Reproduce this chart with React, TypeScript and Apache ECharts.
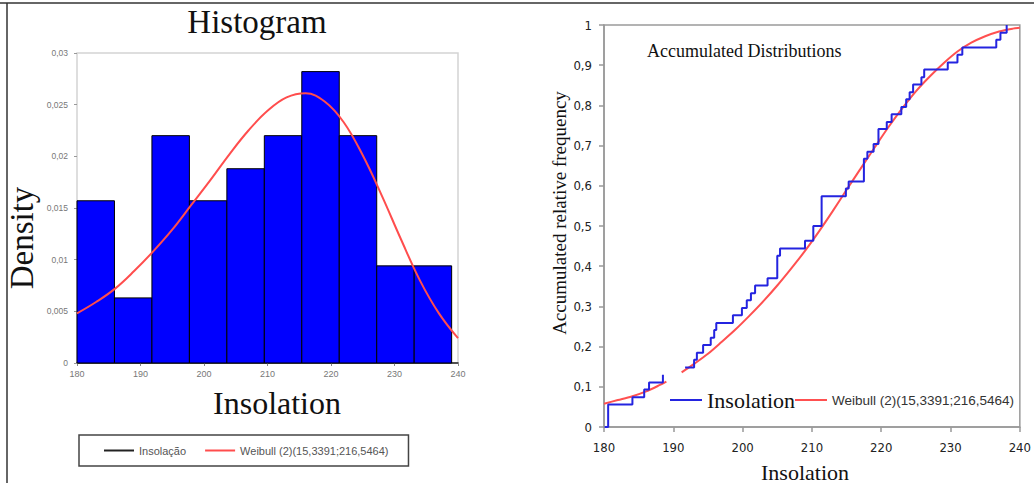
import React, { useEffect, useRef } from "react";
import * as echarts from "echarts";

// ---------- Data ----------
// Histogram bin edges (Insolation) and densities
const binEdges = [180, 185.9, 191.8, 197.7, 203.6, 209.5, 215.4, 221.3, 227.2, 233.1, 239.0];
const binDensity = [0.0157, 0.0063, 0.0220, 0.0157, 0.0188, 0.0220, 0.0282, 0.0220, 0.0094, 0.0094];

// Fitted Weibull density curve (left chart)
const pdfX = [180, 183, 186, 189, 192, 195, 198, 201, 204, 207, 210, 213, 216, 219, 222, 225, 228, 231, 234, 237, 240];
const pdfY = [0.0048, 0.0059, 0.0072, 0.0089, 0.0108, 0.0129, 0.0153, 0.0177, 0.0202, 0.0225, 0.0244, 0.0257, 0.0261, 0.0253, 0.0233, 0.0201, 0.0162, 0.0120, 0.0080, 0.0048, 0.0024];

// Empirical cumulative frequency (right chart), two visible pieces
const ecdfLowX = [180.1, 180.6, 184.1, 185.8, 186.5, 188.5];
const ecdfLowY = [0, 0.056, 0.074, 0.093, 0.111, 0.130];
const ecdfHighX = [191.7, 193.0, 193.4, 194.3, 195.4, 195.9, 196.2, 198.6, 199.9, 200.6, 201.2, 201.8, 203.6, 205.0, 205.4, 209.0, 210.2, 211.4, 214.9, 215.3, 217.5, 218.0, 218.9, 219.6, 220.8, 221.5, 222.9, 223.6, 224.1, 224.6, 225.8, 226.2, 229.6, 231.0, 231.7, 236.6, 237.2, 238.1];
const ecdfHighY = [0.148, 0.167, 0.185, 0.204, 0.222, 0.241, 0.259, 0.278, 0.296, 0.315, 0.333, 0.352, 0.370, 0.426, 0.444, 0.463, 0.500, 0.574, 0.593, 0.611, 0.667, 0.685, 0.704, 0.741, 0.759, 0.778, 0.796, 0.815, 0.833, 0.852, 0.870, 0.889, 0.907, 0.926, 0.944, 0.963, 0.981, 1.0];

// Fitted Weibull cumulative curve (right chart), two visible pieces
const cdfLowX = [180, 182, 184, 186, 188, 189];
const cdfLowY = [0.058, 0.067, 0.076, 0.088, 0.104, 0.113];
const cdfHighX = [191.2, 193, 195, 197, 199, 201, 203, 205, 207, 209, 211, 213, 215, 217, 219, 221, 223, 225, 227, 229, 231, 233, 235, 237, 239, 240];
const cdfHighY = [0.136, 0.157, 0.182, 0.212, 0.243, 0.277, 0.313, 0.352, 0.394, 0.438, 0.486, 0.537, 0.590, 0.642, 0.694, 0.745, 0.792, 0.835, 0.872, 0.905, 0.934, 0.956, 0.972, 0.984, 0.991, 0.993];

const weibullName = "Weibull (2)(15,3391;216,5464)";

const zip = (xs: number[], ys: number[]) => xs.map((x, i) => [x, ys[i]]);
const comma = (v: number) => String(v).replace(".", ",");

export default function App() {
  const ref = useRef<HTMLDivElement>(null);

  useEffect(() => {
    if (!ref.current) return;
    const chart = echarts.init(ref.current, null, { renderer: "svg" });

    const histData = binDensity.map((d, i) => [binEdges[i], binEdges[i + 1], d]);
    const serif = "'Liberation Serif', 'Times New Roman', serif";
    const sans = "'Liberation Sans', Arial, sans-serif";
    const narrow = "'Liberation Sans Narrow', 'DejaVu Sans Condensed', 'Liberation Sans', sans-serif";

    chart.setOption({
      animation: false,
      backgroundColor: "#ffffff",
      grid: [
        { left: 77, top: 53, width: 381, height: 310, show: true, borderColor: "#d4d4d4", borderWidth: 1.5, backgroundColor: "transparent" },
        { left: 604, top: 25, width: 423, height: 402, show: true, borderColor: "#9a9a9a", borderWidth: 1.5, backgroundColor: "transparent" },
      ],
      xAxis: [
        {
          type: "value", gridIndex: 0, min: 180, max: 240, interval: 10,
          splitLine: { show: false },
          axisLine: { show: true, lineStyle: { color: "#222", width: 1.5 } },
          axisTick: { show: true, length: 3, lineStyle: { color: "#888" } },
          axisLabel: { fontSize: 9, color: "#777", fontFamily: sans, margin: 6 },
        },
        {
          type: "value", gridIndex: 1, min: 180, max: 240, interval: 10,
          splitLine: { show: false },
          axisLine: { show: true, onZero: false, lineStyle: { color: "#999", width: 1.5 } },
          axisTick: { show: true, length: 5, lineStyle: { color: "#999", width: 1.5 } },
          axisLabel: { fontSize: 13, color: "#222", fontFamily: narrow, margin: 14 },
        },
      ],
      yAxis: [
        {
          type: "value", gridIndex: 0, min: 0, max: 0.03, interval: 0.005,
          splitLine: { show: false },
          axisLine: { show: false },
          axisTick: { show: true, length: 3, lineStyle: { color: "#999" } },
          axisLabel: { fontSize: 8.5, color: "#777", fontFamily: sans, margin: 9, formatter: (v: number) => comma(+v.toFixed(3)) },
        },
        {
          type: "value", gridIndex: 1, min: 0, max: 1, interval: 0.1,
          splitLine: { show: false },
          axisLine: { show: true, lineStyle: { color: "#999", width: 1.5 } },
          axisTick: { show: true, length: 5, lineStyle: { color: "#999", width: 1.5 } },
          axisLabel: { fontSize: 13, color: "#222", fontFamily: narrow, margin: 12, formatter: (v: number) => comma(+v.toFixed(1)) },
        },
      ],
      legend: [
        {
          left: 79, top: 435, orient: "horizontal",
          padding: [10, 20, 10, 25], itemGap: 19,
          borderColor: "#444", borderWidth: 1.5,
          itemWidth: 30, itemHeight: 2,
          textStyle: { fontSize: 11, color: "#555", fontFamily: sans },
          data: [
            { name: "Insolação", icon: "rect", itemStyle: { color: "#222" } },
            { name: weibullName, icon: "rect", itemStyle: { color: "#ff4d4d" } },
          ],
        },
        {
          left: 670, top: 389, orient: "horizontal",
          padding: 0, itemGap: 0,
          itemWidth: 32, itemHeight: 2,
          data: [
            { name: "Insolation", icon: "rect", itemStyle: { color: "#2424e0" }, textStyle: { fontSize: 22, color: "#111", fontFamily: serif } },
            { name: weibullName, icon: "rect", itemStyle: { color: "#ff5050" }, textStyle: { fontSize: 13.5, color: "#333", fontFamily: sans } },
          ],
        },
      ],
      graphic: [
        { type: "line", shape: { x1: 0, y1: 3, x2: 1034, y2: 3 }, style: { stroke: "#333", lineWidth: 1.5 } },
        { type: "line", shape: { x1: 7, y1: 3, x2: 7, y2: 483 }, style: { stroke: "#333", lineWidth: 1.5 } },
        { type: "text", x: 257, y: 22, style: { text: "Histogram", fontSize: 33, fontFamily: serif, fill: "#111", align: "center", verticalAlign: "middle" } },
        { type: "text", x: 22, y: 238, rotation: Math.PI / 2, style: { text: "Density", fontSize: 33, fontFamily: serif, fill: "#111", align: "center", verticalAlign: "middle" } },
        { type: "text", x: 277, y: 403, style: { text: "Insolation", fontSize: 32, fontFamily: serif, fill: "#111", align: "center", verticalAlign: "middle" } },
        { type: "text", x: 647, y: 51, style: { text: "Accumulated Distributions", fontSize: 18, fontFamily: serif, fill: "#111", align: "left", verticalAlign: "middle" } },
        { type: "text", x: 805, y: 472, style: { text: "Insolation", fontSize: 22, fontFamily: serif, fill: "#111", align: "center", verticalAlign: "middle" } },
        { type: "text", x: 559, y: 213, rotation: Math.PI / 2, style: { text: "Accumulated relative frequency", fontSize: 19, fontFamily: serif, fill: "#111", align: "center", verticalAlign: "middle" } },
      ],
      series: [
        {
          name: "Insolação",
          type: "custom",
          xAxisIndex: 0, yAxisIndex: 0,
          dimensions: ["x0", "x1", "density"],
          encode: { x: [0, 1], y: 2 },
          data: histData,
          itemStyle: { color: "#0000ff" },
          renderItem: (params: any, api: any) => {
            const p0 = api.coord([api.value(0), api.value(2)]);
            const p1 = api.coord([api.value(1), 0]);
            return {
              type: "rect",
              shape: { x: p0[0], y: p0[1], width: p1[0] - p0[0], height: p1[1] - p0[1] },
              style: { fill: "#0000ff", stroke: "#000", lineWidth: 1 },
            };
          },
          z: 2,
        },
        {
          name: weibullName, type: "line", xAxisIndex: 0, yAxisIndex: 0,
          data: zip(pdfX, pdfY), smooth: 0.4, symbol: "none",
          lineStyle: { color: "#ff4d4d", width: 2 }, itemStyle: { color: "#ff4d4d" }, z: 3,
        },
        {
          name: weibullName, type: "line", xAxisIndex: 1, yAxisIndex: 1,
          data: zip(cdfLowX, cdfLowY), smooth: 0.3, symbol: "none",
          lineStyle: { color: "#ff5050", width: 2 }, itemStyle: { color: "#ff5050" }, z: 2,
        },
        {
          name: weibullName, type: "line", xAxisIndex: 1, yAxisIndex: 1,
          data: zip(cdfHighX, cdfHighY), smooth: 0.3, symbol: "none",
          lineStyle: { color: "#ff5050", width: 2 }, itemStyle: { color: "#ff5050" }, z: 2,
        },
        {
          name: "Insolation", type: "line", xAxisIndex: 1, yAxisIndex: 1,
          data: zip(ecdfLowX, ecdfLowY), step: "end", symbol: "none",
          lineStyle: { color: "#2424e0", width: 2 }, itemStyle: { color: "#2424e0" }, z: 3,
        },
        {
          name: "Insolation", type: "line", xAxisIndex: 1, yAxisIndex: 1,
          data: zip(ecdfHighX, ecdfHighY), step: "end", symbol: "none",
          lineStyle: { color: "#2424e0", width: 2 }, itemStyle: { color: "#2424e0" }, z: 3,
        },
      ],
    });

    return () => chart.dispose();
  }, []);

  return (
    <div
      ref={ref}
      style={{ position: "absolute", left: 0, top: 0, width: 1034, height: 483, background: "#fff" }}
    />
  );
}
